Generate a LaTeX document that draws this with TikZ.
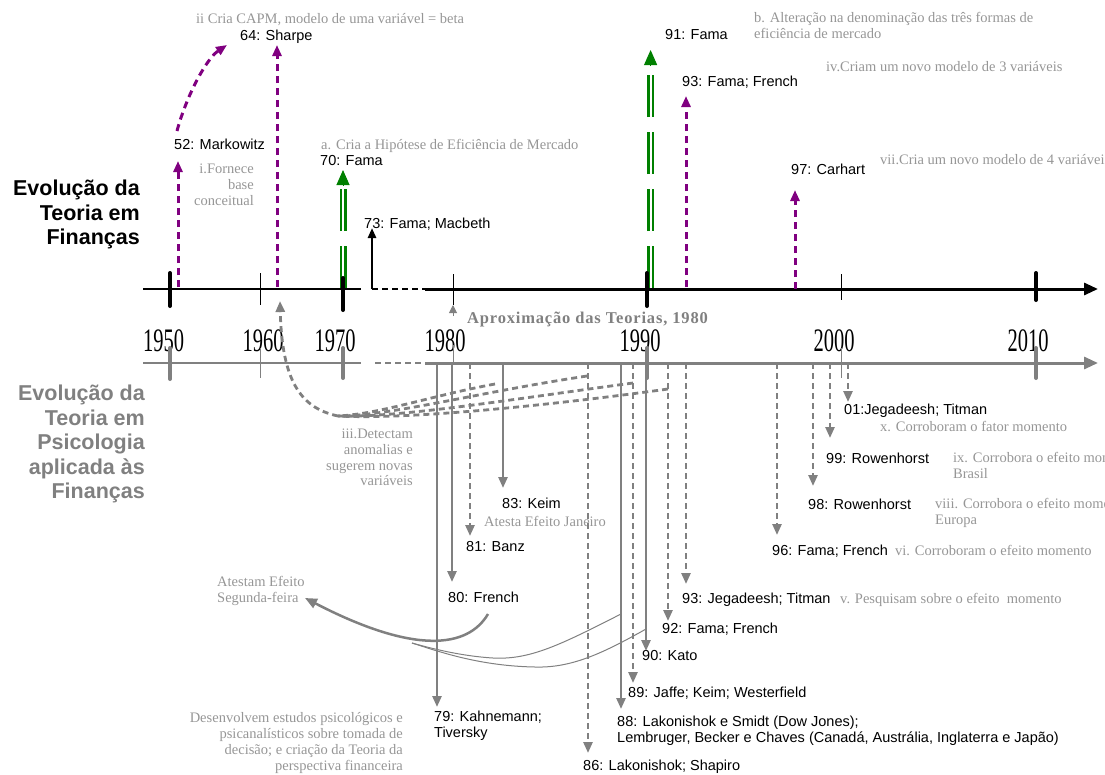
\documentclass[tikz,border=0pt]{standalone}
\usepackage{fontspec}
\setmainfont{Liberation Serif}
\setsansfont{Liberation Sans}
\usepackage{tikz}
\usetikzlibrary{arrows.meta, positioning}

\definecolor{roxo}{RGB}{128,0,128}
\definecolor{verde}{RGB}{0,128,0}
\definecolor{cinza}{RGB}{128,128,128}
\definecolor{cinzaclaro}{RGB}{150,150,150}

\newcommand{\alto}[1]{\scalebox{1}[1.6]{#1}}

\begin{document}
\begin{tikzpicture}[x=1pt, y=-1pt,
        autor/.style={font=\sffamily\fontsize{14.5}{16}\selectfont, inner sep=0pt},
        nota/.style={font=\rmfamily\fontsize{14.5}{16}\selectfont, text=cinzaclaro, inner sep=0pt},
        ano/.style={font=\rmfamily\fontsize{20.5}{21}\selectfont, inner sep=0pt},
        aprox/.style={font=\rmfamily\bfseries\fontsize{16.5}{18}\selectfont\addfontfeatures{LetterSpace=5}, text=cinza, inner sep=0pt},
        titulo/.style={font=\sffamily\bfseries\fontsize{21.5}{24.5}\selectfont, align=right, inner sep=0pt},
        roxa/.style={roxo, line width=3pt, dash pattern=on 7pt off 5pt, -{Triangle[length=11pt,width=9pt]}},
        linha/.style={cinza, line width=2.5pt, dash pattern=on 6pt off 4pt},
        cheia/.style={cinza, line width=2.5pt, -{Triangle[length=11pt,width=9pt]}},
        tracej/.style={linha, -{Triangle[length=11pt,width=9pt]}},
        verdeh/.style={verde, line width=2.5pt, double=white, double distance=2pt, dash pattern=on 42pt off 15pt},
        ponta/.style={verde, line width=1pt, -{Triangle[length=15pt,width=13pt]}}]
    \useasboundingbox (0,0) rectangle (1105,774);

    % titulos
    \node[titulo, anchor=north east] (TFin) at (140,180) {Evolução da\\Teoria em\\Finanças};
    \node[titulo, anchor=north east, text=cinza] (TPsi) at (145,385) {Evolução da\\Teoria em\\Psicologia\\aplicada às\\Finanças};

    % eixo de cima
    \coordinate (E0) at (143,289);
    \coordinate (E1) at (361,289);
    \coordinate (E2) at (372,289);
    \coordinate (E3) at (425,289);
    \coordinate (Efim) at (1098,289);
    \draw[line width=1.2pt] (E0) -- (E1);
    \draw[line width=2.5pt, dash pattern=on 6pt off 4pt] (E2) -- (E3);
    \draw[line width=3pt, -{Triangle[length=14pt,width=12pt]}] (E3) -- (Efim);

    % eixo de baixo
    \coordinate (P0) at (143,363);
    \coordinate (P1) at (361,363);
    \coordinate (P2) at (375,363);
    \coordinate (P3) at (425,363);
    \coordinate (Pfim) at (1098,363);
    \draw[cinza, line width=1.2pt] (P0) -- (P1);
    \draw[linha] (P2) -- (P3);
    \draw[cinza, line width=3pt, -{Triangle[length=14pt,width=12pt]}] (P3) -- (Pfim);

    % anos
    \node[ano] (y1950) at (163.5,341) {\alto{1950}};
    \node[ano] (y1960) at (263,341) {\alto{1960}};
    \node[ano] (y1970) at (335,341) {\alto{1970}};
    \node[ano] (y1980) at (445,341) {\alto{1980}};
    \node[ano] (y1990) at (640,341) {\alto{1990}};
    \node[ano] (y2000) at (834,341) {\alto{2000}};
    \node[ano] (y2010) at (1028,341) {\alto{2010}};

    % financas
    \node[autor, anchor=base west] (Mk52) at (174,149) {52: Markowitz};
    \node[autor, anchor=base west] (Sh64) at (240,40) {64: Sharpe};
    \node[autor, anchor=base west] (Fa70) at (320,165) {70: Fama};
    \node[autor, anchor=base west] (FM73) at (364,228) {73: Fama; Macbeth};
    \node[autor, anchor=base west] (Fa91) at (665,39) {91: Fama};
    \node[autor, anchor=base west] (FF93) at (682,86) {93: Fama; French};
    \node[autor, anchor=base west] (Ca97) at (791,174) {97: Carhart};

    \node[nota, anchor=base west] (nCAPM) at (196,23) {ii Cria CAPM, modelo de uma variável = beta};
    \node[nota, anchor=north east, align=right] (nBase) at (254,164) {i.Fornece\\base\\conceitual};
    \node[nota, anchor=base west] (nHip) at (321,149) {a. Cria a Hipótese de Eficiência de Mercado};
    \node[nota, anchor=north west, align=left] (nForm) at (754,12) {b. Alteração na denominação das três formas de\\eficiência de mercado};
    \node[nota, anchor=base west] (nTres) at (826,71) {iv.Criam um novo modelo de 3 variáveis};
    \node[nota, anchor=base west] (nQuat) at (880,164) {vii.Cria um novo modelo de 4 variáveis};
    \node[aprox, anchor=base west] (Aprox) at (467,323) {Aproximação das Teorias, 1980};

    \coordinate (m52) at (178,287);  \coordinate (a52) at (178,161);
    \coordinate (c52) at (177,131);  \coordinate (c64) at (227,45);
    \coordinate (m64) at (277,287);  \coordinate (a64) at (277,45);
    \coordinate (m93) at (686,287);  \coordinate (a93) at (686,96);
    \coordinate (m97) at (795,289);  \coordinate (a97) at (795,190);
    \draw[roxa] (m52) -- (a52);
    \draw[roxa] (c52) .. controls (186,97) and (206,59) .. (c64);
    \draw[roxa] (m64) -- (a64);
    \draw[roxa] (m93) -- (a93);
    \draw[roxa] (m97) -- (a97);

    \coordinate (g70) at (343,288);   \coordinate (h70) at (343,189);
    \coordinate (k70) at (343,185.5); \coordinate (a70) at (343,170);
    \coordinate (g91) at (650.6,288); \coordinate (h91) at (650.6,73);
    \coordinate (k91) at (650.6,66);  \coordinate (a91) at (650.6,50);
    \draw[verdeh] (g70) -- (h70);
    \draw[ponta] (k70) -- (a70);
    \draw[verdeh] (g91) -- (h91);
    \draw[ponta] (k91) -- (a91);

    \coordinate (a73) at (372,228);
    \draw[line width=2.5pt, -{Triangle[length=10pt,width=8pt]}] (E2) -- (a73);

    % marcas dos anos
    \draw[line width=4pt, line cap=round] (170,273) -- (170,306) (343,278) -- (343,310)
        (647,273) -- (647,306) (1036,273) -- (1036,300);
    \draw[line width=1pt] (260,273) -- (260,305) (453,274) -- (453,305) (841,274) -- (841,300);
    \draw[cinza, line width=4pt, line cap=round] (170,348) -- (170,379) (343,348) -- (343,378)
        (647,348) -- (647,378) (1036,348) -- (1036,378);
    \draw[cinza, line width=1pt] (260,348) -- (260,378) (453,345) -- (453,365) (841,348) -- (841,378);

    \coordinate (ap0) at (453,316);  \coordinate (ap1) at (453,305);
    \draw[cinza, line width=1pt, -{Triangle[length=8pt,width=8pt]}] (ap0) -- (ap1);

    % psicologia
    \node[autor, anchor=north west, align=left] (KT79) at (434,711) {79: Kahnemann;\\Tiversky};
    \node[autor, anchor=base west] (Fr80) at (448,602) {80: French};
    \node[autor, anchor=base west] (Bz81) at (466,551) {81: Banz};
    \node[autor, anchor=base west] (Ke83) at (502,508) {83: Keim};
    \node[autor, anchor=base west] (LS86) at (583,770) {86: Lakonishok; Shapiro};
    \node[autor, anchor=north west, align=left] (LS88) at (617,716) {88: Lakonishok e Smidt (Dow Jones);\\Lembruger, Becker e Chaves (Canadá, Austrália, Inglaterra e Japão)};
    \node[autor, anchor=base west] (JKW89) at (628,697) {89: Jaffe; Keim; Westerfield};
    \node[autor, anchor=base west] (Ka90) at (642,660) {90: Kato};
    \node[autor, anchor=base west] (FF92) at (662,633) {92: Fama; French};
    \node[autor, anchor=base west] (JT93) at (682,603) {93: Jegadeesh; Titman};
    \node[autor, anchor=base west] (FF96) at (772,555) {96: Fama; French};
    \node[autor, anchor=base west] (Rw98) at (808,509) {98: Rowenhorst};
    \node[autor, anchor=base west] (Rw99) at (826,463) {99: Rowenhorst};
    \node[autor, anchor=base west] (JT01) at (844,414) {01:Jegadeesh; Titman};

    \node[nota, anchor=north east, align=right, font=\rmfamily\fontsize{14.5}{15.7}\selectfont] (nAnom) at (413,429) {iii.Detectam\\anomalias e\\sugerem novas\\variáveis};
    \node[nota, anchor=base west] (nJan) at (484,526) {Atesta Efeito Janeiro};
    \node[nota, anchor=north west, align=left] (nSeg) at (217,576) {Atestam Efeito\\Segunda-feira};
    \node[nota, anchor=north east, align=right] (nDes) at (403,712) {Desenvolvem estudos psicológicos e\\psicanalísticos sobre tomada de\\decisão; e criação da Teoria da\\perspectiva financeira};
    \node[nota, anchor=base west] (nPesq) at (840,603) {v. Pesquisam sobre o efeito\ \ momento};
    \node[nota, anchor=base west] (nCorr) at (895,555) {vi. Corroboram o efeito momento};
    \node[nota, anchor=north west, align=left] (nEur) at (935,498) {viii. Corrobora o efeito momento na\\Europa};
    \node[nota, anchor=north west, align=left] (nBra) at (953,452) {ix. Corrobora o efeito momento no\\Brasil};
    \node[nota, anchor=base west] (nFat) at (880,431) {x. Corroboram o fator momento};

    \coordinate (b79) at (437,363);  \coordinate (p79) at (437,707);
    \coordinate (b80) at (452,363);  \coordinate (p80) at (452,582);
    \coordinate (b81) at (470,363);  \coordinate (p81) at (470,536);
    \coordinate (b83) at (503,363);  \coordinate (p83) at (503,488);
    \coordinate (b86) at (588,363);  \coordinate (p86) at (588,753);
    \coordinate (b88) at (621,363);  \coordinate (p88) at (621,709);
    \coordinate (b89) at (633,363);  \coordinate (p89) at (633,683);
    \coordinate (b90) at (646,363);  \coordinate (p90) at (646,651);
    \coordinate (b92) at (668,363);  \coordinate (p92) at (668,621);
    \coordinate (b93) at (686,363);  \coordinate (p93) at (686,584);
    \coordinate (b96) at (777,363);  \coordinate (p96) at (777,535);
    \coordinate (b98) at (813,363);  \coordinate (p98) at (813,486);
    \coordinate (b99) at (830,363);  \coordinate (p99) at (830,438);
    \coordinate (b01) at (848,363);  \coordinate (p01) at (848,402);
    \draw[cheia] (b79) -- (p79);
    \draw[cheia] (b80) -- (p80);
    \draw[tracej] (b81) -- (p81);
    \draw[cheia] (b83) -- (p83);
    \draw[tracej] (b86) -- (p86);
    \draw[cheia] (b88) -- (p88);
    \draw[tracej] (b89) -- (p89);
    \draw[cheia] (b90) -- (p90);
    \draw[tracej] (b92) -- (p92);
    \draw[tracej] (b93) -- (p93);
    \draw[tracej] (b96) -- (p96);
    \draw[tracej] (b98) -- (p98);
    \draw[tracej] (b99) -- (p99);
    \draw[tracej] (b01) -- (p01);

    % anomalias de volta para 1960
    \coordinate (q1) at (495,384);
    \coordinate (q2) at (587,376);
    \coordinate (q3) at (633,383);
    \coordinate (q4) at (668,389);
    \coordinate (qm) at (338,416);
    \coordinate (q60) at (280,301);
    \draw[linha, line width=2.8pt] (q1) .. controls (430,396) and (380,414) .. (qm);
    \draw[linha, line width=2.8pt] (q2) .. controls (480,392) and (390,416) .. (qm);
    \draw[linha, line width=2.8pt] (q3) .. controls (520,398) and (400,418) .. (qm);
    \draw[linha, line width=2.8pt] (q4) .. controls (560,404) and (410,420) .. (qm);
    \draw[tracej, line width=2.8pt] (qm) .. controls (300,408) and (282,380) .. (q60);

    % efeito segunda-feira
    \coordinate (s80) at (488,614);
    \coordinate (sSeg) at (305,598);
    \coordinate (s88) at (621,614);
    \coordinate (s90) at (646,629);
    \coordinate (sJ) at (412,643);
    \draw[cinza, line width=2.5pt, -{Triangle[length=12pt,width=10pt]}] (s80) .. controls (468,648) and (415,655) .. (sSeg);
    \draw[cinza, line width=1pt] (s88) .. controls (560,645) and (530,660) .. (493,658) .. controls (460,656) and (430,648) .. (sJ);
    \draw[cinza, line width=1pt] (s90) .. controls (600,655) and (570,668) .. (535,667) .. controls (480,666) and (440,652) .. (sJ);
\end{tikzpicture}
\end{document}
